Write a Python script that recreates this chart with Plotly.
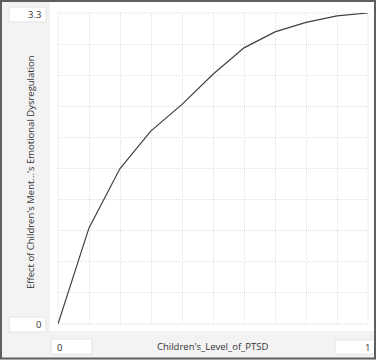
import plotly.graph_objects as go

x_vals = [0.0, 0.1, 0.2, 0.3, 0.4, 0.5, 0.6, 0.7, 0.8, 0.9, 1.0]
y_vals = [0.0, 1.02, 1.65, 2.05, 2.33, 2.65, 2.93, 3.10, 3.20, 3.27, 3.30]
x_title = "Children's_Level_of_PTSD"
y_title = "Effect of Children's Ment...'s Emotional Dysregulation"
x_min_label, x_max_label = "0", "1"
y_min_label, y_max_label = "0", "3.3"

W, H = 376, 360
L, R, T, B = 58, 8, 13, 36
PW, PH = W - L - R, H - T - B


def px(xp):
    return (xp - L) / PW


def py(yp):
    return (H - B - yp) / PH


fig = go.Figure()
fig.add_trace(go.Scatter(x=x_vals, y=y_vals, mode="lines",
                         line=dict(color="#404040", width=1.2), hoverinfo="skip"))

shapes = []
# white panel
shapes.append(dict(type="rect", xref="paper", yref="paper", layer="below",
                   x0=px(50), x1=px(376), y0=py(331), y1=py(2),
                   fillcolor="white", line=dict(width=0)))
# plot border dotted
shapes.append(dict(type="rect", xref="paper", yref="paper", layer="below",
                   x0=0, x1=1, y0=0, y1=1,
                   line=dict(color="#dedede", width=1, dash="1px,1px")))
# value boxes
for (x0, x1, y0, y1) in [(9, 46, 7, 22), (9, 46, 317, 332), (51, 92, 339, 354), (335, 375, 340, 354)]:
    shapes.append(dict(type="rect", xref="paper", yref="paper", layer="above",
                       x0=px(x0), x1=px(x1), y0=py(y1), y1=py(y0),
                       fillcolor="white", line=dict(color="#e4e4e4", width=1)))
# outer border
shapes.append(dict(type="rect", xref="paper", yref="paper", layer="above",
                   x0=px(1), x1=px(375), y0=py(358.5), y1=py(1),
                   line=dict(color="#5f5f5f", width=2)))

font = dict(family="Open Sans, Noto Sans, sans-serif", size=9.5, color="#333333")
ann = [
    dict(x=px(43), y=py(14.5), text=y_max_label, xanchor="right", yanchor="middle"),
    dict(x=px(43), y=py(324.5), text=y_min_label, xanchor="right", yanchor="middle"),
    dict(x=px(55), y=py(347), text=x_min_label, xanchor="left", yanchor="middle"),
    dict(x=px(372), y=py(347.5), text=x_max_label, xanchor="right", yanchor="middle"),
    dict(x=px(212), y=py(346), text=x_title, xanchor="center", yanchor="middle"),
    dict(x=px(30), y=py(172), text=y_title, xanchor="center", yanchor="middle", textangle=-90),
]
for a in ann:
    a.update(xref="paper", yref="paper", showarrow=False, font=font)

grid = dict(showgrid=True, gridcolor="#e0e0e0", griddash="1px,1px", gridwidth=1,
            zeroline=False, showline=False, showticklabels=False, ticks="",
            fixedrange=True)
fig.update_layout(
    width=W, height=H,
    margin=dict(l=L, r=R, t=T, b=B),
    paper_bgcolor="#f3f3f3", plot_bgcolor="white",
    showlegend=False,
    xaxis=dict(range=[0, 1], dtick=0.1, **grid),
    yaxis=dict(range=[0, 3.3], dtick=0.33, **grid),
    shapes=shapes, annotations=ann,
)
fig.write_html("out.html", config={"displayModeBar": False},
               post_script="document.body.style.margin='0';document.body.style.overflow='hidden';")
